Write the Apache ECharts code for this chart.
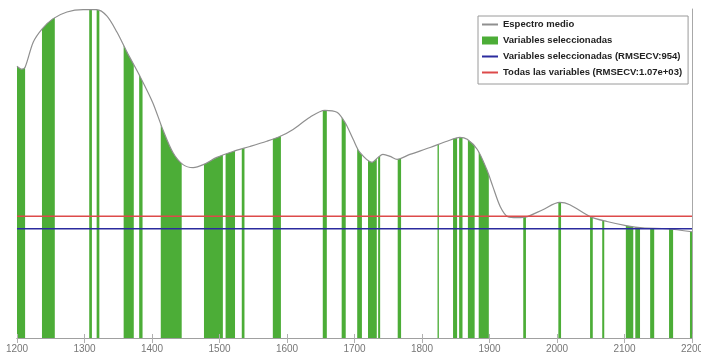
<!DOCTYPE html>
<html>
<head>
<meta charset="utf-8">
<script src="https://cdn.jsdelivr.net/npm/echarts@6/dist/echarts.min.js"></script>
<style>html,body{margin:0;padding:0;background:#fff;}#c{width:701px;height:354px;}</style>
</head>
<body>
<div id="c"></div>
<script>
// Wavenumber / wavelength ticks
const xTicks = [1200, 1300, 1400, 1500, 1600, 1700, 1800, 1900, 2000, 2100, 2200];
// Mean spectrum (x, normalized intensity)
const specX = [1200,1207,1212,1224,1237,1253,1274,1298,1318,1333,1348,1363,1382,1401,1416,1431,1446,1461,1476,1496,1520,1545,1570,1590,1609,1634,1656,1674,1686,1698,1708,1726,1735,1742,1753,1763,1782,1812,1837,1856,1867,1882,1896,1905,1916,1927,1941,1956,1979,2004,2019,2049,2074,2104,2127,2163,2200];
const specY = [0.826,0.817,0.823,0.899,0.939,0.970,0.991,0.998,0.998,0.979,0.930,0.869,0.796,0.716,0.634,0.564,0.527,0.518,0.527,0.549,0.567,0.582,0.598,0.613,0.634,0.671,0.692,0.686,0.655,0.604,0.564,0.534,0.549,0.558,0.552,0.543,0.558,0.579,0.598,0.610,0.604,0.573,0.512,0.460,0.399,0.369,0.366,0.369,0.390,0.412,0.405,0.369,0.354,0.341,0.335,0.332,0.323];
// Selected variable intervals [start, end]
const selStart = [1200,1237,1307,1318,1358,1381,1413,1477,1509,1533,1579,1653,1681,1704,1720,1735,1764,1823,1846,1855,1868,1884,1950,2002,2049,2067,2102,2116,2138,2166,2197];
const selEnd   = [1212,1256,1311,1322,1373,1386,1444,1505,1523,1537,1591,1659,1687,1711,1733,1738,1769,1825,1852,1860,1878,1899,1954,2006,2053,2070,2113,2123,2144,2172,2200];
// RMSECV reference levels
const rmsecvSelected = 0.332;
const rmsecvAll = 0.370;

const Y_MIN = 0, Y_MAX = 1;
const names = ['Espectro medio','Variables seleccionadas','Variables seleccionadas (RMSECV:954)','Todas las variables (RMSECV:1.07e+03)'];

const chart = echarts.init(document.getElementById('c'), null, {renderer:'canvas'});
const spec = specX.map((x,i)=>[x, specY[i]]);
const sel = selStart.map((s,i)=>[s, selEnd[i], Y_MIN, Y_MAX]);
const GREEN = '#4cad37';
const noSym = {opacity: 0};

chart.setOption({
  animation: false,
  backgroundColor: '#fff',
  grid: {left: 17, right: 9, top: 9, bottom: 16, show: false, containLabel: false, outerBoundsMode: 'none'},
  legend: {
    orient: 'vertical', left: 478, top: 16,
    backgroundColor: '#fff', borderColor: '#9a9a9a', borderWidth: 1, borderRadius: 0,
    padding: [3, 6, 6, 3], itemGap: 5, itemWidth: 16, itemHeight: 8,
    textStyle: {fontFamily: 'Liberation Sans', fontWeight: 'bold', fontSize: 9.5, color: '#222', lineHeight: 11},
    data: [
      {name: names[0], itemStyle: noSym},
      {name: names[1], icon: 'rect'},
      {name: names[2], itemStyle: noSym},
      {name: names[3], itemStyle: noSym}
    ],
    z: 20
  },
  xAxis: [{
    type: 'value', min: xTicks[0], max: xTicks[xTicks.length-1], interval: 100, position: 'bottom', z: 10,
    axisLine: {show: true, lineStyle: {color: '#a0a0a0', width: 1}},
    axisTick: {show: true, inside: true, length: 4, lineStyle: {color: '#b0b0b0'}},
    splitLine: {show: false},
    axisLabel: {color: '#777', fontSize: 10, fontFamily: 'Liberation Sans', margin: 6, formatter: v => String(v)}
  },{
    type: 'value', min: xTicks[0], max: xTicks[xTicks.length-1], interval: 100, position: 'top', z: 10,
    axisLine: {show: true, lineStyle: {color: '#a0a0a0', width: 1}},
    axisTick: {show: true, inside: true, length: 5, lineStyle: {color: '#b0b0b0'}},
    splitLine: {show: false}, axisLabel: {show: false}
  }],
  yAxis: [{
    type: 'value', min: Y_MIN, max: Y_MAX, position: 'left',
    axisLine: {show: false}, axisTick: {show: false}, axisLabel: {show: false}, splitLine: {show: false}
  },{
    type: 'value', min: Y_MIN, max: Y_MAX, position: 'right', z: 10,
    axisLine: {show: true, lineStyle: {color: '#a8a8a8'}}, axisTick: {show: false}, axisLabel: {show: false}, splitLine: {show: false}
  }],
  series: [
    {
      name: names[1], type: 'custom', z: 1,
      itemStyle: {color: GREEN},
      encode: {x: [0,1], y: [2,3]},
      data: sel,
      renderItem: function(params, api){
        const p0 = api.coord([api.value(0), api.value(3)]);
        const p1 = api.coord([api.value(1), api.value(2)]);
        return {type: 'rect', shape: {x: p0[0], y: p0[1], width: Math.max(p1[0]-p0[0], 1), height: p1[1]-p0[1]},
                style: {fill: api.visual('color')}};
      }
    },
    {
      name: names[0], type: 'line', z: 2, data: spec, smooth: 0.3, symbol: 'none',
      lineStyle: {color: '#8f8f8f', width: 1.2},
      itemStyle: {color: '#8f8f8f'},
      areaStyle: {origin: 'end', color: '#ffffff', opacity: 1}
    },
    {
      name: names[2], type: 'line', z: 3, symbol: 'none',
      data: [[xTicks[0], rmsecvSelected], [xTicks[xTicks.length-1], rmsecvSelected]],
      lineStyle: {color: '#2b2b9e', width: 1.6}, itemStyle: {color: '#2b2b9e'}
    },
    {
      name: names[3], type: 'line', z: 3, symbol: 'none',
      data: [[xTicks[0], rmsecvAll], [xTicks[xTicks.length-1], rmsecvAll]],
      lineStyle: {color: '#dd4a4a', width: 1.5}, itemStyle: {color: '#dd4a4a'}
    }
  ]
});
</script>
</body>
</html>
